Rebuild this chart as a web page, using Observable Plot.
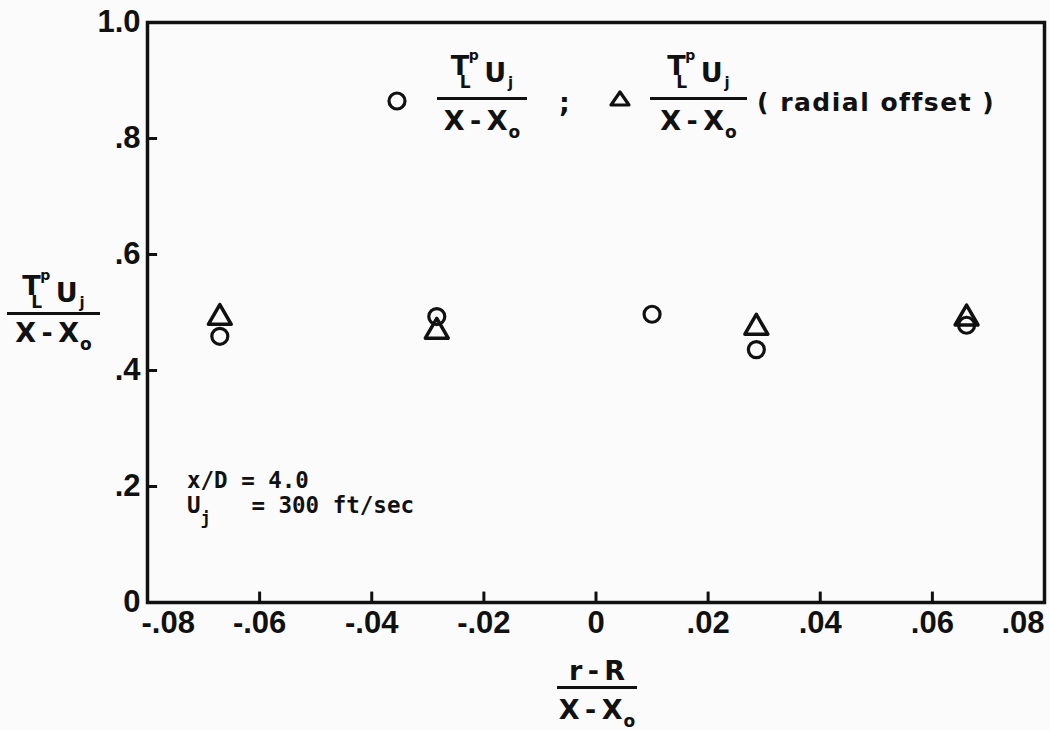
<!DOCTYPE html>
<html>
<head>
<meta charset="utf-8">
<script src="https://cdn.jsdelivr.net/npm/d3@7"></script>
<script src="https://cdn.jsdelivr.net/npm/@observablehq/plot@0.6"></script>
<style>
  html, body { margin: 0; padding: 0; background: #fbfbfb; }
  #wrap { position: relative; width: 1050px; height: 730px; overflow: hidden; }
  .lbl { position: absolute; font-family: "DejaVu Sans", sans-serif; font-weight: bold; color: #111; font-size: 27px; line-height: 1; white-space: nowrap; }
  .bar { position: absolute; height: 3px; background: #111; }
  .T { position: relative; display: inline-block; top: -7px; margin-right: 15px; }
  .T .p { position: absolute; left: 18px; top: -4px; font-size: 14px; }
  .T .L { position: absolute; left: 9px; top: 22px; font-size: 17px; }
  .j { font-size: 15px; position: relative; top: 6px; margin-left: 2px; }
  .o { font-size: 17px; position: relative; top: 8px; margin-left: 1px; }
  .mono { font-family: "DejaVu Sans Mono", monospace; font-weight: bold; font-size: 22.5px; white-space: pre; }
</style>
</head>
<body>
<div id="wrap"></div>
<script>
// Circles: T_L^p U_j / (X - X_o)
const circleX = [-0.0671, -0.0284, 0.0100, 0.0286, 0.0661];
const circleY = [0.459, 0.493, 0.497, 0.436, 0.478];
// Triangles: T_L^p U_j / (X - X_o) (radial offset)
const triX = [-0.0671, -0.0284, 0.0286, 0.0661];
const triY = [0.491, 0.467, 0.474, 0.490];

const xTicks = [-0.08, -0.06, -0.04, -0.02, 0, 0.02, 0.04, 0.06, 0.08];
const xTickLabels = ["-.08", "-.06", "-.04", "-.02", "0", ".02", ".04", ".06", ".08"];
const yTicks = [0, 0.2, 0.4, 0.6, 0.8, 1.0];
const yTickLabels = ["0", ".2", ".4", ".6", ".8", "1.0"];

const circles = circleX.map((x, i) => ({x, y: circleY[i]}));
const tris = triX.map((x, i) => ({x, y: triY[i]}));

const ink = "#111";
const xFmt = d => xTickLabels[xTicks.findIndex(t => Math.abs(t - d) < 1e-9)];
const yFmt = d => yTickLabels[yTicks.findIndex(t => Math.abs(t - d) < 1e-9)];
const tickFont = {fontSize: 31, fontWeight: "bold", fill: ink};
const xMin = xTicks[0], yMin = yTicks[0];

const chart = Plot.plot({
  width: 1050,
  height: 730,
  marginLeft: 147,
  marginRight: 6,
  marginTop: 22,
  marginBottom: 128,
  style: {background: "#fbfbfb", color: ink, fontFamily: "Liberation Sans, sans-serif"},
  x: {domain: [-0.08, 0.08], axis: null},
  y: {domain: [0, 1.0]},
  marks: [
    // inward tick marks (about 10 px long)
    Plot.ruleX(xTicks.slice(1, -1), {x: d => d, y1: yMin, y2: yMin + 0.018, stroke: ink, strokeWidth: 3}),
    Plot.ruleY(yTicks.slice(1, -1), {y: d => d, x1: xMin, x2: xMin + 0.0018, stroke: ink, strokeWidth: 3}),
    Plot.frame({stroke: ink, strokeWidth: 3.5}),
    // x tick labels
    Plot.text(xTicks.slice(1, -1), {x: d => d, text: xFmt, frameAnchor: "bottom", dy: 30, ...tickFont}),
    Plot.text(xTicks.slice(0, 1), {x: d => d, text: xFmt, frameAnchor: "bottom", dy: 30, dx: -6, textAnchor: "start", ...tickFont}),
    Plot.text(xTicks.slice(-1), {x: d => d, text: xFmt, frameAnchor: "bottom", dy: 30, textAnchor: "end", ...tickFont}),
    // y tick labels
    Plot.axisY(yTicks, {anchor: "left", tickSize: 0, tickPadding: 7, tickFormat: yFmt, fontSize: 31, fontWeight: "bold", label: null}),
    Plot.dot(circles, {x: "x", y: "y", r: 8, stroke: ink, strokeWidth: 3.2, fill: "none", symbol: "circle"}),
    Plot.dot(tris, {x: "x", y: "y", r: 8.5, stroke: ink, strokeWidth: 3.5, fill: "none", symbol: "triangle", strokeLinejoin: "round"})
  ]
});

const wrap = document.getElementById("wrap");
wrap.appendChild(chart);

function addDiv(html, left, top, width, cls) {
  const d = document.createElement("div");
  d.className = "lbl" + (cls ? " " + cls : "");
  d.style.left = left + "px";
  d.style.top = top + "px";
  if (width != null) { d.style.width = width + "px"; d.style.textAlign = "center"; }
  d.innerHTML = html;
  wrap.appendChild(d);
  return d;
}
function addBar(x1, x2, y) {
  const b = document.createElement("div");
  b.className = "bar";
  b.style.left = x1 + "px";
  b.style.width = (x2 - x1) + "px";
  b.style.top = (y - 1.5) + "px";
  wrap.appendChild(b);
}

const numHtml = '<span class="T">T<span class="p">p</span><span class="L">L</span></span>U<span class="j">j</span>';
const denHtml = 'X&thinsp;-&thinsp;X<span class="o">o</span>';

function fraction(x1, x2, lineY, numTop, denTop, num, den) {
  addDiv(num, x1, numTop, x2 - x1);
  addBar(x1, x2, lineY);
  addDiv(den, x1, denTop, x2 - x1);
}

// Legend
const circSvg = '<svg width="24" height="24" style="display:block"><circle cx="12" cy="12" r="8" fill="none" stroke="#111" stroke-width="3.2"/></svg>';
const triSvg = '<svg width="26" height="22" style="display:block"><path d="M13,4 L22,17 L4,17 Z" fill="none" stroke="#111" stroke-width="3.2" stroke-linejoin="round"/></svg>';
addDiv(circSvg, 385, 89);
fraction(437, 527, 98, 59, 107, numHtml, denHtml);
addDiv(';', 559, 89);
addDiv(triSvg, 607, 88);
fraction(650, 747, 98, 59, 107, numHtml, denHtml);
addDiv('<span style="letter-spacing:1.5px;font-size:25px">( radial offset )</span>', 757, 88);

// Y axis title
fraction(7, 100, 313, 279, 319, numHtml, denHtml);

// X axis title
fraction(557, 637, 687, 657, 696, 'r&thinsp;-&thinsp;R', denHtml);

// Annotation
addDiv('x/D = 4.0', 187, 469, null, "mono");
addDiv('U<span style="font-size:17px;position:relative;top:11px">j</span>   = 300 ft/sec', 187, 494, null, "mono");
</script>
</body>
</html>
